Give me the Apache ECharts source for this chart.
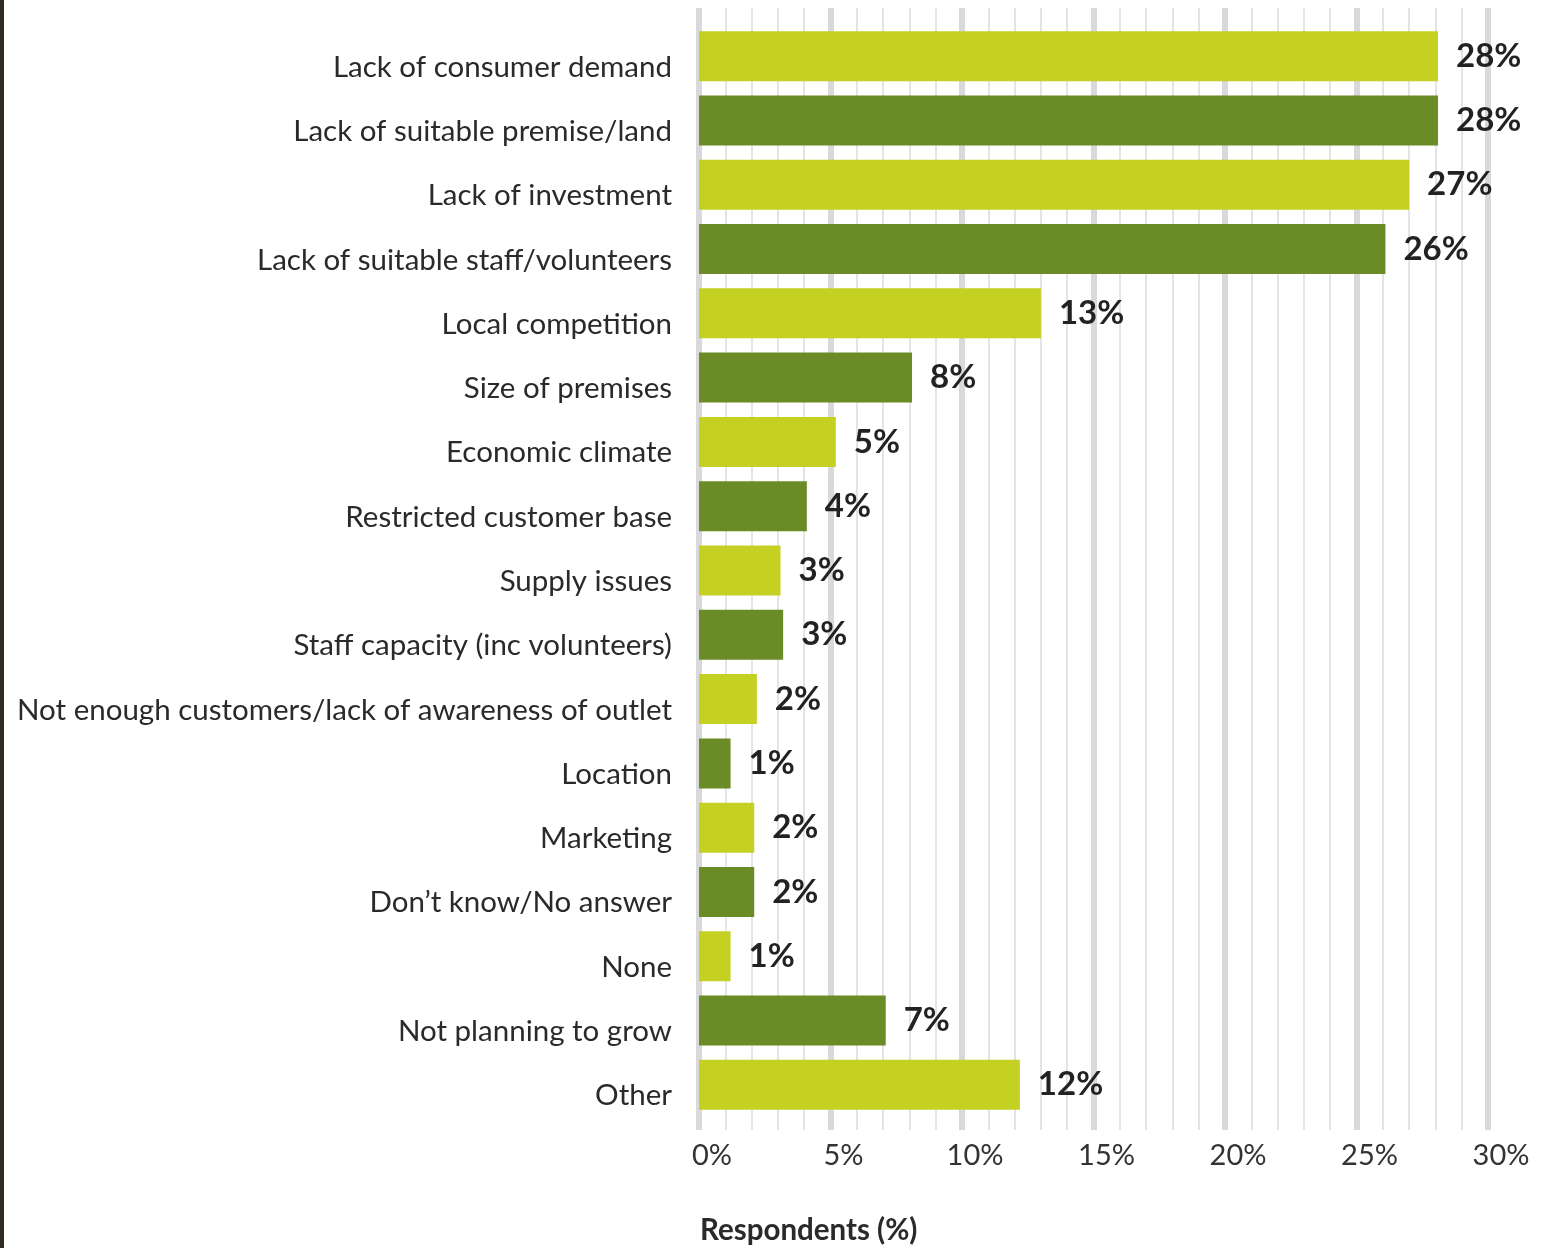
<!DOCTYPE html>
<html>
<head>
<meta charset="utf-8">
<script src="https://cdn.jsdelivr.net/npm/echarts@6/dist/echarts.min.js"></script>
<style>
  html, body { margin: 0; padding: 0; background: #fff; }
  #chart { width: 1542px; height: 1248px; }
</style>
</head>
<body>
<div id="chart"></div>
<script>
  // data
  var categories = [
    'Lack of consumer demand',
    'Lack of suitable premise/land',
    'Lack of investment',
    'Lack of suitable staff/volunteers',
    'Local competition',
    'Size of premises',
    'Economic climate',
    'Restricted customer base',
    'Supply issues',
    'Staff capacity (inc volunteers)',
    'Not enough customers/lack of awareness of outlet',
    'Location',
    'Marketing',
    'Don\u2019t know/No answer',
    'None',
    'Not planning to grow',
    'Other'
  ];
  var values = [28.1, 28.1, 27.0, 26.1, 13.0, 8.1, 5.2, 4.1, 3.1, 3.2, 2.2, 1.2, 2.1, 2.1, 1.2, 7.1, 12.2];
  var xTicks = [0, 5, 10, 15, 20, 25, 30];

  var light = '#c4d022';
  var dark = '#6b8b27';
  var font = 'Lato';

  var myChart = echarts.init(document.getElementById('chart'));

  var barData = values.map(function (v, i) {
    return { value: v, itemStyle: { color: i % 2 === 0 ? light : dark } };
  });

  var options = {
    backgroundColor: '#fff',
    animation: false,
    title: {
      text: 'Respondents (%)',
      left: 700,
      top: 1215,
      padding: 0,
      textStyle: { fontFamily: font, fontSize: 29.5, fontWeight: 'bold', color: '#2a2a2a' }
    },
    graphic: [{
      type: 'rect',
      shape: { x: 0, y: 0, width: 4, height: 1248 },
      style: { fill: '#2f2a24' }
    }],
    grid: [
      // background grid lines
      { left: 699, right: 54, top: 8, bottom: 118 },
      // bars
      { left: 699, right: 54, top: 24, bottom: 131 }
    ],
    xAxis: [
      {
        gridIndex: 0, type: 'value', min: 0, max: 30, interval: 1,
        axisLine: { show: false }, axisTick: { show: false }, axisLabel: { show: false },
        splitLine: { show: true, lineStyle: { color: '#e4e4e4', width: 2 } }
      },
      {
        gridIndex: 0, type: 'value', min: 0, max: 30, interval: 5, position: 'bottom',
        axisLine: { show: false }, axisTick: { show: false },
        axisLabel: {
          margin: 11,
          fontFamily: font, fontSize: 29, color: '#333',
          padding: [0, 0, 0, 26],
          formatter: function (v) { return xTicks.indexOf(v) >= 0 ? v + '%' : ''; }
        },
        splitLine: { show: true, lineStyle: { color: '#d9d9db', width: 6 } }
      },
      {
        gridIndex: 1, type: 'value', min: 0, max: 30, show: false
      }
    ],
    yAxis: [
      { gridIndex: 0, type: 'value', min: 0, max: 1, show: false },
      {
        gridIndex: 1, type: 'category', data: categories, inverse: true,
        axisLine: { show: false }, axisTick: { show: false },
        axisLabel: {
          margin: 27,
          verticalAlign: 'top',
          lineHeight: 22,
          fontFamily: font, fontSize: 29.5, color: '#2a2a2a'
        }
      }
    ],
    series: [
      {
        type: 'bar',
        xAxisIndex: 2,
        yAxisIndex: 1,
        barWidth: 50,
        data: barData,
        label: {
          show: true,
          position: 'right',
          distance: 18,
          fontFamily: font, fontSize: 33, fontWeight: 'bold', color: '#222',
          formatter: function (p) { return Math.round(p.value) + '%'; }
        }
      }
    ]
  };

  myChart.setOption(options);
</script>
</body>
</html>
